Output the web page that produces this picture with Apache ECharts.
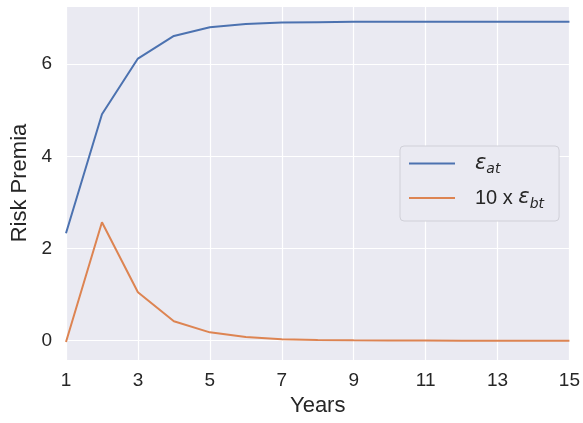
<!DOCTYPE html>
<html>
<head>
<meta charset="utf-8">
<script src="https://cdn.jsdelivr.net/npm/echarts@6/dist/echarts.min.js"></script>
<style>
  html, body { margin: 0; padding: 0; background: #ffffff; }
  #char1 { width: 583px; height: 423px; }
</style>
</head>
<body>
<div id="char1"></div>
<script>
// data
var years = [1, 2, 3, 4, 5, 6, 7, 8, 9, 10, 11, 12, 13, 14, 15];
var epsAt = [2.33, 4.91, 6.12, 6.61, 6.80, 6.87, 6.90, 6.91, 6.92, 6.92, 6.92, 6.92, 6.92, 6.92, 6.92];
var epsBt10 = [-0.03, 2.57, 1.05, 0.42, 0.18, 0.08, 0.03, 0.015, 0.007, 0.003, 0.001, 0, 0, 0, 0];
var seriesNames = ['eat', 'ebt'];

function pairs(xs, ys) {
    return xs.map(function(x, i) { return [x, ys[i]]; });
}

function char1() {
    var myChart = echarts.init(document.getElementById('char1'));
    var txt = '#262626';
    var option = {
        animation: false,
        textStyle: { fontFamily: 'Liberation Sans, Arial, sans-serif' },
        grid: {
            left: 66, right: 13, top: 6, bottom: 63,
            show: true,
            backgroundColor: '#EAEAF2',
            borderWidth: 0
        },
        legend: {
            orient: 'vertical',
            left: 400, top: 146,
            padding: [7, 15, 10, 8],
            itemGap: 11,
            itemWidth: 46,
            itemHeight: 24,
            backgroundColor: '#EAEAF2',
            borderColor: '#D0D0D8',
            borderWidth: 1,
            borderRadius: 4,
            itemStyle: { opacity: 0 },
            lineStyle: { width: 2 },
            data: seriesNames,
            formatter: function(name) {
                if (name === 'eat') return '{e|ε}{s|at}';
                return '{n|10 x }{e|ε}{s|bt}';
            },
            textStyle: {
                color: txt,
                padding: [0, 0, 0, 15],
                rich: {
                    n: { fontSize: 20, fontFamily: 'Liberation Sans', color: txt, lineHeight: 26, verticalAlign: 'middle' },
                    e: { fontSize: 21, fontFamily: 'DejaVu Sans', fontStyle: 'italic', color: txt, lineHeight: 26, verticalAlign: 'middle' },
                    s: { fontSize: 14, fontFamily: 'DejaVu Sans', fontStyle: 'italic', color: txt, lineHeight: 14, verticalAlign: 'bottom' }
                }
            }
        },
        xAxis: {
            type: 'value',
            min: 1, max: 15, interval: 2,
            name: 'Years',
            nameLocation: 'middle',
            nameGap: 34,
            nameTextStyle: { fontSize: 22, color: txt },
            axisLine: { show: false },
            axisTick: { show: false },
            axisLabel: { fontSize: 19, color: txt, margin: 11 },
            splitLine: { show: true, lineStyle: { color: '#ffffff', width: 1.2 } }
        },
        yAxis: {
            type: 'value',
            min: -0.42, max: 7.26,
            splitNumber: 4,
            name: 'Risk Premia',
            nameLocation: 'middle',
            nameGap: 35,
            nameTextStyle: { fontSize: 22, color: txt },
            axisLine: { show: false },
            axisTick: { show: false },
            axisLabel: {
                fontSize: 19, color: txt, margin: 14,
                showMinLabel: false, showMaxLabel: false,
                formatter: function(v) { return Math.abs(v - Math.round(v)) < 1e-6 ? String(Math.round(v)) : ''; }
            },
            splitLine: { show: true, lineStyle: { color: '#ffffff', width: 1.2 } }
        },
        series: [{
            name: 'eat',
            type: 'line',
            data: pairs(years, epsAt),
            showSymbol: false,
            symbol: 'none',
            lineStyle: { color: '#4C72B0', width: 2 },
            itemStyle: { color: '#4C72B0' }
        }, {
            name: 'ebt',
            type: 'line',
            data: pairs(years, epsBt10),
            showSymbol: false,
            symbol: 'none',
            lineStyle: { color: '#DD8452', width: 2 },
            itemStyle: { color: '#DD8452' }
        }]
    };
    myChart.setOption(option);
    window.addEventListener('resize', function() { myChart.resize(); });
}

char1();
</script>
</body>
</html>
